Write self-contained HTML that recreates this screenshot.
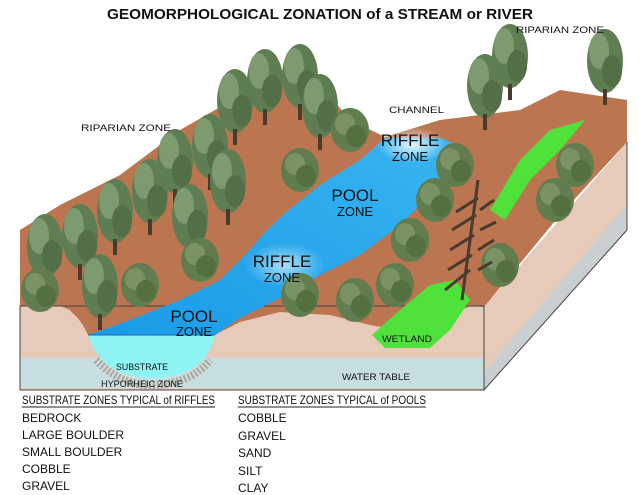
<!DOCTYPE html>
<html><head><meta charset="utf-8"><style>
html,body{margin:0;padding:0;background:#fff;}
svg{display:block;font-family:"Liberation Sans",sans-serif;}
</style></head><body>
<svg width="639" height="495" viewBox="0 0 639 495" xmlns="http://www.w3.org/2000/svg">
<defs>
<radialGradient id="rif" cx="0.5" cy="0.5" r="0.5"><stop offset="0" stop-color="#e4f6ff"/><stop offset="1" stop-color="#e4f6ff" stop-opacity="0"/></radialGradient>
<linearGradient id="riv" x1="0" y1="1" x2="1" y2="0"><stop offset="0" stop-color="#1a9be6"/><stop offset="1" stop-color="#38b4f0"/></linearGradient>
<g id="t"><ellipse cx="0" cy="-14" rx="18" ry="32" fill="#5f7d52"/><ellipse cx="-6" cy="-24" rx="10" ry="18" fill="#7e9a70"/><ellipse cx="7" cy="-4" rx="10" ry="16" fill="#526f47"/><rect x="-2" y="14" width="4" height="16" fill="#4a3b2e"/></g>
<g id="b"><ellipse cx="0" cy="0" rx="19" ry="22" fill="#617c4f"/><ellipse cx="-5" cy="-6" rx="10" ry="11" fill="#7a9365"/><ellipse cx="6" cy="6" rx="10" ry="11" fill="#54703f"/></g>
</defs>
<text x="320" y="19" text-anchor="middle" font-size="15" font-weight="bold" textLength="426" lengthAdjust="spacingAndGlyphs" fill="#111">GEOMORPHOLOGICAL ZONATION of a STREAM or RIVER</text>
<!-- right side face -->
<polygon points="484,307 627,142 627,230 484,390" fill="#e6cbbb"/>
<polygon points="484,372 627,205 627,230 484,390" fill="#c9cfd1"/>
<line x1="484" y1="390" x2="627" y2="230" stroke="#444" stroke-width="1"/>
<line x1="627" y1="142" x2="627" y2="230" stroke="#444" stroke-width="1"/>
<!-- front face -->
<rect x="20" y="306" width="464" height="84" fill="#e6cbbb"/>
<rect x="20" y="358" width="464" height="30" fill="#c8dfe2"/>
<!-- top terrain -->
<polygon points="20,306 20,230 60,205 120,175 180,130 250,90 300,60 350,120 385,137 440,120 520,110 560,90 627,100 627,142 560,215 484,307 470,306 440,320 400,330 370,325 330,315 280,312 240,322 215,335 88,335 70,310 60,306" fill="#bb7550"/>
<!-- front face cross-section: bank profile left of pool -->
<path d="M20,306 L60,306 Q78,312 88,335 L20,335 Z" fill="#e6cbbb"/>
<path d="M215,335 Q240,320 280,318 Q330,316 370,330 L390,345 L430,345 Q460,320 484,307 L484,358 L215,358 Z" fill="#e6cbbb"/>
<!-- pool bowl -->
<path d="M88,335 Q100,375 150,378 Q205,378 215,335 Z" fill="#8ff4f4"/>
<path d="M96,360 Q120,385 150,385 Q190,385 210,360" fill="none" stroke="#a88c78" stroke-width="8" stroke-dasharray="2 2" opacity="0.7"/>
<rect x="20" y="306" width="464" height="84" fill="none" stroke="#444" stroke-width="1"/>
<!-- river -->
<polygon points="88,335 130,320 180,300 220,280 245,255 265,232 285,213 320,185 360,160 385,138 440,138 458,145 440,185 400,225 360,255 320,275 280,298 240,318 215,335" fill="url(#riv)"/>
<ellipse cx="412" cy="145" rx="35" ry="18" fill="url(#rif)"/>
<ellipse cx="285" cy="265" rx="40" ry="22" fill="url(#rif)" opacity="0.7"/>
<line x1="88" y1="335" x2="215" y2="335" stroke="#1d62a8" stroke-width="1"/>
<!-- wetland green -->
<polygon points="372,335 400,310 430,285 455,280 470,300 450,330 430,348 385,348" fill="#4fe23a"/>
<polygon points="490,210 520,160 550,130 585,120 560,150 530,180 505,220" fill="#4fe23a"/>
<!-- trees left -->
<use href="#t" x="45" y="260"/>
<use href="#t" x="80" y="250"/>
<use href="#t" x="115" y="225"/>
<use href="#t" x="150" y="205"/>
<use href="#t" x="175" y="175"/>
<use href="#t" x="210" y="160"/>
<use href="#t" x="235" y="115"/>
<use href="#t" x="265" y="95"/>
<use href="#t" x="300" y="90"/>
<use href="#t" x="320" y="120"/>
<use href="#t" x="228" y="195"/>
<use href="#t" x="190" y="230"/>
<use href="#t" x="100" y="300"/>
<use href="#b" x="40" y="290"/>
<use href="#b" x="140" y="285"/>
<use href="#b" x="200" y="260"/>
<use href="#b" x="300" y="170"/>
<use href="#b" x="350" y="130"/>
<!-- trees right -->
<use href="#t" x="485" y="100"/>
<use href="#t" x="510" y="70"/>
<use href="#t" x="605" y="75"/>
<use href="#b" x="455" y="165"/>
<use href="#b" x="435" y="200"/>
<use href="#b" x="410" y="240"/>
<use href="#b" x="395" y="285"/>
<use href="#b" x="355" y="300"/>
<use href="#b" x="300" y="295"/>
<use href="#b" x="575" y="165"/>
<use href="#b" x="555" y="200"/>
<use href="#b" x="500" y="265"/>
<g stroke="#4a3a2e" stroke-width="3" fill="none">
<line x1="462" y1="300" x2="478" y2="180"/>
<path d="M445,290 L470,270 M448,270 L472,255 M450,250 L474,235 M452,230 L476,215 M456,212 L478,198 M478,270 L492,262 M478,250 L494,240 M480,230 L496,222 M480,210 L494,200"/>
</g>
<!-- labels -->
<g fill="#111" font-size="9">
<text x="81" y="131" textLength="90" lengthAdjust="spacingAndGlyphs">RIPARIAN ZONE</text>
<text x="516" y="33" textLength="88" lengthAdjust="spacingAndGlyphs">RIPARIAN ZONE</text>
<text x="389" y="113" textLength="55" lengthAdjust="spacingAndGlyphs">CHANNEL</text>
<text x="382" y="342" textLength="50" lengthAdjust="spacingAndGlyphs">WETLAND</text>
<text x="342" y="380" textLength="68" lengthAdjust="spacingAndGlyphs">WATER TABLE</text>
<text x="116" y="370" textLength="52" lengthAdjust="spacingAndGlyphs">SUBSTRATE</text>
<text x="101" y="387" textLength="82" lengthAdjust="spacingAndGlyphs">HYPORHEIC ZONE</text>
</g>
<g fill="#111" text-anchor="middle">
<text x="410" y="146" font-size="17">RIFFLE</text><text x="410" y="161" font-size="13">ZONE</text>
<text x="355" y="201" font-size="17">POOL</text><text x="355" y="216" font-size="13">ZONE</text>
<text x="282" y="267" font-size="17">RIFFLE</text><text x="282" y="282" font-size="13">ZONE</text>
<text x="194" y="322" font-size="17">POOL</text><text x="194" y="336" font-size="13">ZONE</text>
</g>
<g fill="#111" font-size="12">
<text x="22" y="404" textLength="193" lengthAdjust="spacingAndGlyphs">SUBSTRATE ZONES TYPICAL of RIFFLES</text>
<line x1="22" y1="407" x2="215" y2="407" stroke="#222" stroke-width="1"/>
<text x="22" y="422">BEDROCK</text>
<text x="22" y="439">LARGE BOULDER</text>
<text x="22" y="456">SMALL BOULDER</text>
<text x="22" y="473">COBBLE</text>
<text x="22" y="490">GRAVEL</text>
<text x="238" y="404" textLength="188" lengthAdjust="spacingAndGlyphs">SUBSTRATE ZONES TYPICAL of POOLS</text>
<line x1="238" y1="407" x2="426" y2="407" stroke="#222" stroke-width="1"/>
<text x="238" y="422">COBBLE</text>
<text x="238" y="440">GRAVEL</text>
<text x="238" y="457">SAND</text>
<text x="238" y="475">SILT</text>
<text x="238" y="492">CLAY</text>
</g>
</svg>
</body></html>
